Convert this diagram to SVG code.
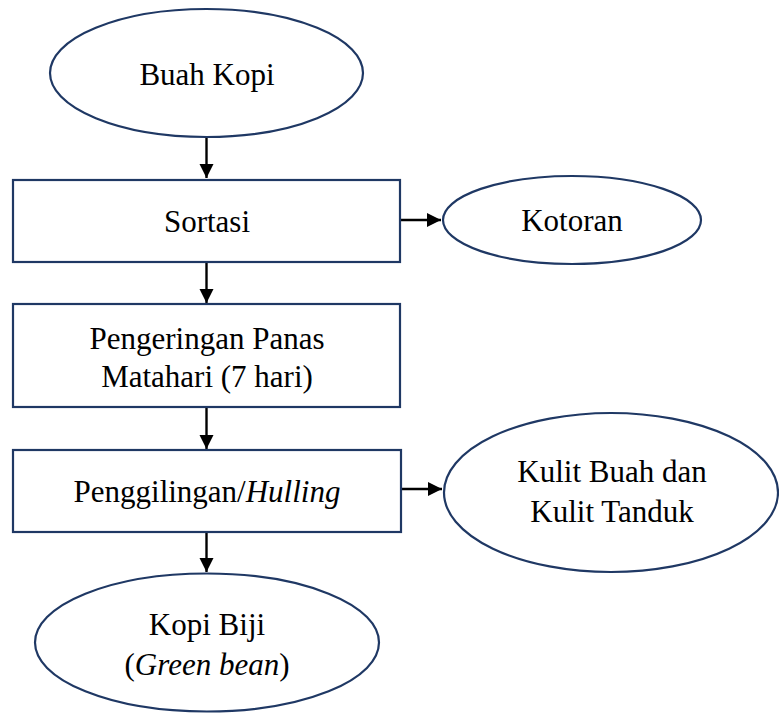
<svg xmlns="http://www.w3.org/2000/svg" width="779" height="713" viewBox="0 0 779 713">
<defs>
<marker id="ah" markerWidth="6" markerHeight="6" refX="6" refY="3" orient="auto" markerUnits="strokeWidth">
<path d="M0,0 L6,3 L0,6 Z" fill="#000"/>
</marker>
<style>
.n{fill:#fff;stroke:#1f3864;stroke-width:2.2}
.t{font-family:"Liberation Serif","Times New Roman",serif;font-size:31px;fill:#000;text-anchor:middle}
.c{stroke:#000;stroke-width:2.4;fill:none;marker-end:url(#ah)}
</style>
</defs>
<rect width="779" height="713" fill="#fff"/>
<g id="connectors">
<line class="c" x1="206.5" y1="137" x2="206.5" y2="178"/>
<line class="c" x1="206.5" y1="262" x2="206.5" y2="303"/>
<line class="c" x1="206.5" y1="407" x2="206.5" y2="449"/>
<line class="c" x1="206.5" y1="532" x2="206.5" y2="572"/>
<line class="c" x1="400" y1="220" x2="441" y2="220"/>
<line class="c" x1="401" y1="489" x2="442" y2="489"/>
</g>
<g id="buah-kopi">
<ellipse class="n" cx="206.5" cy="73" rx="156.5" ry="64"/>
<text class="t" x="207" y="85">Buah Kopi</text>
</g>
<g id="sortasi">
<rect class="n" x="13" y="180" width="387" height="82"/>
<text class="t" x="207" y="232">Sortasi</text>
</g>
<g id="kotoran">
<ellipse class="n" cx="572" cy="220" rx="129" ry="44"/>
<text class="t" x="572" y="231">Kotoran</text>
</g>
<g id="pengeringan">
<rect class="n" x="13" y="304" width="387" height="103"/>
<text class="t" x="207" y="349">Pengeringan Panas</text>
<text class="t" x="207" y="387">Matahari (7 hari)</text>
</g>
<g id="penggilingan">
<rect class="n" x="13" y="450" width="388" height="82"/>
<text class="t" x="207" y="502">Penggilingan/<tspan font-style="italic">Hulling</tspan></text>
</g>
<g id="kulit">
<ellipse class="n" cx="611" cy="492.5" rx="167" ry="79.5"/>
<text class="t" x="612" y="482">Kulit Buah dan</text>
<text class="t" x="612" y="522">Kulit Tanduk</text>
</g>
<g id="kopi-biji">
<ellipse class="n" cx="207" cy="642.5" rx="172" ry="69"/>
<text class="t" x="207" y="635">Kopi Biji</text>
<text class="t" x="207" y="675">(<tspan font-style="italic">Green bean</tspan>)</text>
</g>
</svg>
